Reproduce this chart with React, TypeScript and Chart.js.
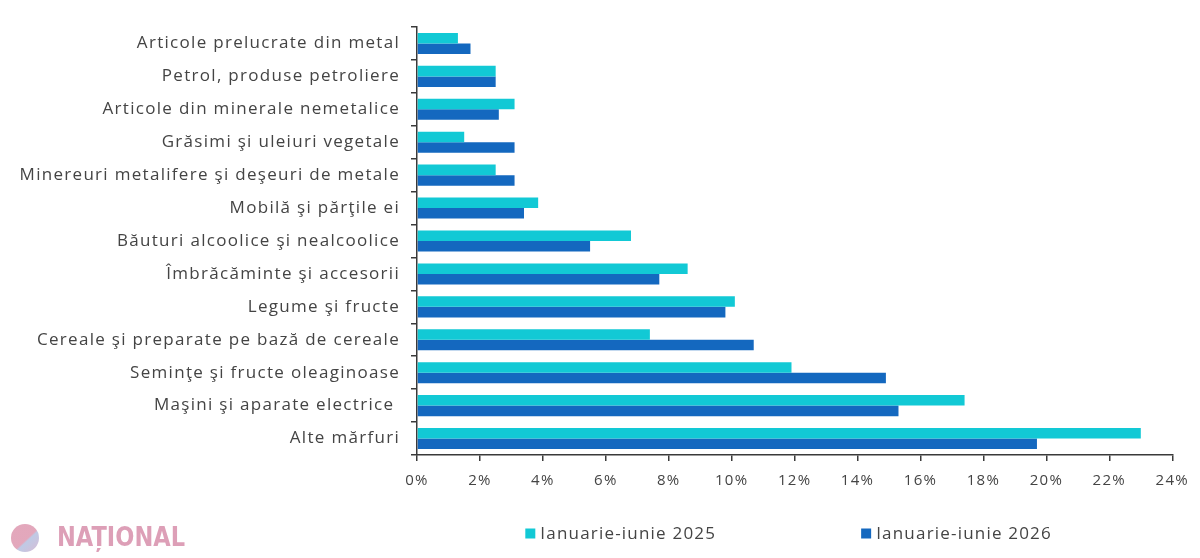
import { useEffect, useRef } from "react";
import { Chart, registerables } from "chart.js";

Chart.register(...registerables);

const categories = [
  "Articole prelucrate din metal",
  "Petrol, produse petroliere",
  "Articole din minerale nemetalice",
  "Grăsimi şi uleiuri vegetale",
  "Minereuri metalifere şi deşeuri de metale",
  "Mobilă şi părţile ei",
  "Băuturi alcoolice şi nealcoolice",
  "Îmbrăcăminte şi accesorii",
  "Legume şi fructe",
  "Cereale şi preparate pe bază de cereale",
  "Seminţe şi fructe oleaginoase",
  "Maşini şi aparate electrice ",
  "Alte mărfuri",
];

const series2025 = [1.3, 2.5, 3.1, 1.5, 2.5, 3.85, 6.8, 8.6, 10.1, 7.4, 11.9, 17.4, 23.0];
const series2026 = [1.7, 2.5, 2.6, 3.1, 3.1, 3.4, 5.5, 7.7, 9.8, 10.7, 14.9, 15.3, 19.7];
const seriesNames = ["Ianuarie-iunie 2025", "Ianuarie-iunie 2026"];
const xTickValues = [0, 2, 4, 6, 8, 10, 12, 14, 16, 18, 20, 22, 24];
const watermarkText = "NAȚIONAL";

const COLORS = ["#12C9D5", "#1468BF"];
const FONT = "'Open Sans', 'DejaVu Sans', sans-serif";
const TEXT = "#444444";
const AXIS = "#3a3a3a";
const SPACING = "1.3px";

const spacingPlugin = {
  id: "spacing",
  beforeLayout(chart: any) {
    chart.ctx.letterSpacing = SPACING;
  },
  beforeDraw(chart: any) {
    chart.ctx.letterSpacing = SPACING;
  },
};

const extrasPlugin = {
  id: "extras",
  afterDraw(chart: any) {
    const { ctx, chartArea } = chart;
    ctx.save();
    // legend
    ctx.letterSpacing = "1.2px";
    ctx.font = `17px ${FONT}`;
    ctx.textBaseline = "middle";
    const sq = 10;
    const gap = 5;
    const itemGap = 145;
    const w0 = ctx.measureText(seriesNames[0]).width;
    const w1 = ctx.measureText(seriesNames[1]).width;
    const total = sq + gap + w0 + itemGap + sq + gap + w1;
    const cx = (chartArea.left + chartArea.right) / 2 - 6;
    let x = cx - total / 2;
    const y = chartArea.bottom + 78.5;
    [w0, w1].forEach((w, i) => {
      ctx.fillStyle = COLORS[i];
      ctx.fillRect(x, y - sq / 2, sq, sq);
      ctx.fillStyle = TEXT;
      ctx.textAlign = "left";
      ctx.fillText(seriesNames[i], x + sq + gap, y + 1);
      x += sq + gap + w + itemGap;
    });

    // watermark
    ctx.letterSpacing = "0px";
    ctx.globalAlpha = 0.75;
    const g = ctx.createLinearGradient(12, 524, 38, 552);
    g.addColorStop(0, "#d98aa5");
    g.addColorStop(0.55, "#d98aa5");
    g.addColorStop(0.6, "#a9b8dc");
    g.addColorStop(1, "#c9a6c8");
    ctx.fillStyle = g;
    ctx.beginPath();
    ctx.arc(25, 538, 14, 0, Math.PI * 2);
    ctx.fill();
    ctx.font = `bold 27px 'DejaVu Sans', ${FONT}`;
    ctx.fillStyle = "#d27f9f";
    ctx.textAlign = "left";
    ctx.textBaseline = "middle";
    const tw = ctx.measureText(watermarkText).width;
    ctx.save();
    ctx.translate(57, 538);
    ctx.scale(128 / tw, 1);
    ctx.fillText(watermarkText, 0, 1);
    ctx.restore();
    ctx.restore();
  },
};

export default function App() {
  const ref = useRef<HTMLCanvasElement>(null);

  useEffect(() => {
    document.body.style.margin = "0";
    const canvas = ref.current;
    if (!canvas) return;
    const chart = new Chart(canvas, {
      type: "bar",
      data: {
        labels: categories,
        datasets: [
          {
            label: seriesNames[0],
            data: series2025,
            backgroundColor: COLORS[0],
            borderWidth: 0,
            categoryPercentage: 0.64,
            barPercentage: 1,
          },
          {
            label: seriesNames[1],
            data: series2026,
            backgroundColor: COLORS[1],
            borderWidth: 0,
            categoryPercentage: 0.64,
            barPercentage: 1,
          },
        ],
      },
      options: {
        indexAxis: "y",
        animation: false,
        responsive: false,
        devicePixelRatio: 1,
        layout: { padding: { left: 0, right: 23, top: 27, bottom: 63 } },
        plugins: {
          legend: { display: false },
          tooltip: { enabled: false },
        },
        scales: {
          y: {
            afterFit: (s: any) => {
              s.width = 417;
            },
            ticks: {
              font: { family: FONT, size: 17 },
              color: TEXT,
              padding: 11,
            },
            grid: {
              drawOnChartArea: false,
              drawTicks: true,
              tickLength: 6,
              color: AXIS,
              lineWidth: 1.5,
              offset: true,
            },
            border: { color: AXIS, width: 1.5 },
          },
          x: {
            min: 0,
            max: 24,
            afterFit: (s: any) => {
              s.height = 40;
            },
            afterBuildTicks: (s: any) => {
              s.ticks = xTickValues.map((v) => ({ value: v }));
            },
            ticks: {
              font: { family: FONT, size: 15 },
              color: TEXT,
              padding: 11,
              callback: (v: any) => `${v}%`,
            },
            grid: {
              drawOnChartArea: false,
              drawTicks: true,
              tickLength: 6,
              color: AXIS,
              lineWidth: 1.5,
            },
            border: { color: AXIS, width: 1.5 },
          },
        },
      },
      plugins: [spacingPlugin, extrasPlugin],
    });
    return () => chart.destroy();
  }, []);

  return (
    <div style={{ width: 1200, height: 558, background: "#fff" }}>
      <canvas ref={ref} width={1200} height={558} style={{ display: "block" }} />
    </div>
  );
}
